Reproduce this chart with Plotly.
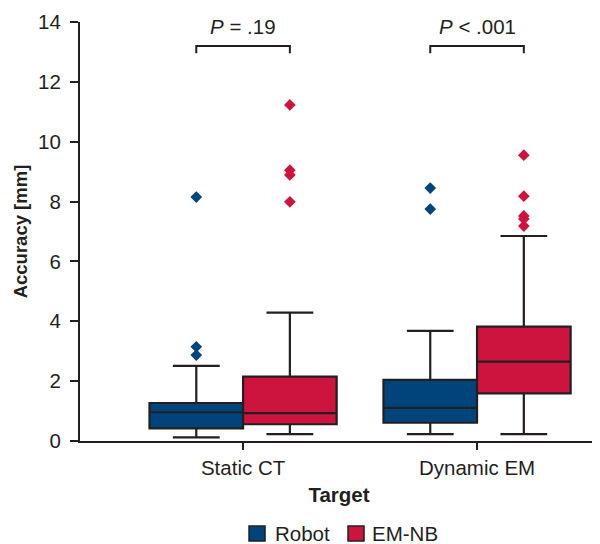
import plotly.graph_objects as go

categories = ["Static CT", "Dynamic EM"]
groups = ["Robot", "EM-NB"]

robot_lower = [0.12, 0.23]
robot_q1 = [0.42, 0.61]
robot_median = [0.96, 1.11]
robot_q3 = [1.27, 2.04]
robot_upper = [2.51, 3.68]
robot_outliers = [[2.87, 3.15, 8.15], [7.75, 8.45]]

emnb_lower = [0.23, 0.23]
emnb_q1 = [0.56, 1.59]
emnb_median = [0.93, 2.65]
emnb_q3 = [2.15, 3.82]
emnb_upper = [4.29, 6.85]
emnb_outliers = [[7.99, 8.89, 9.05, 11.23], [7.18, 7.42, 7.52, 8.18, 9.55]]

p_labels = ["<i>P</i> = .19", "<i>P</i> < .001"]
y_ticks = [0, 2, 4, 6, 8, 10, 12, 14]

colors = {"Robot": "#00447C", "EM-NB": "#CC143F"}
edge = "#231F20"
font = "Liberation Sans, Arial, Helvetica, sans-serif"
fs = 20.5

offset = 0.2
bw = 0.4

fig = go.Figure()

series = [
    ("Robot", -offset, robot_lower, robot_q1, robot_median, robot_q3, robot_upper, robot_outliers),
    ("EM-NB", offset, emnb_lower, emnb_q1, emnb_median, emnb_q3, emnb_upper, emnb_outliers),
]

for name, off, lo, q1, med, q3, up, outl in series:
    xs = [i + off for i in range(len(categories))]
    fig.add_trace(go.Box(
        x=xs, lowerfence=lo, q1=q1, median=med, q3=q3, upperfence=up,
        width=bw, whiskerwidth=0.5, fillcolor=colors[name],
        line=dict(color=edge, width=2.2), boxpoints=False,
        showlegend=False, name=name, hoverinfo="skip",
    ))
    ox, oy = [], []
    for i, vals in enumerate(outl):
        for v in vals:
            ox.append(i + off)
            oy.append(v)
    fig.add_trace(go.Scatter(
        x=ox, y=oy, mode="markers", showlegend=False,
        marker=dict(symbol="diamond", size=9, color=colors[name]),
        hoverinfo="skip",
    ))

# significance brackets
for i, lab in enumerate(p_labels):
    x0, x1 = i - offset, i + offset
    fig.add_shape(type="path",
                  path=f"M {x0} 12.96 L {x0} 13.2 L {x1} 13.2 L {x1} 12.96",
                  xref="x", yref="y", line=dict(color=edge, width=2))
    fig.add_annotation(x=i, y=13.85, xref="x", yref="y", text=lab,
                       showarrow=False, yanchor="middle",
                       font=dict(size=fs, color=edge, family=font))

# manual legend (swatch + label)
legend_items = [("Robot", 0.3263, 0.3726), ("EM-NB", 0.5174, 0.5598)]
for name, sx, tx in legend_items:
    fig.add_shape(type="rect", xref="paper", yref="paper",
                  x0=sx, x1=sx + 0.0309, y0=-0.2387, y1=-0.2029,
                  fillcolor=colors[name], line=dict(color=edge, width=1.5))
    fig.add_annotation(x=tx, y=-0.2196, xref="paper", yref="paper",
                       text=name, showarrow=False, xanchor="left",
                       yanchor="middle", font=dict(size=fs, color=edge))

fig.update_layout(
    width=592, height=536,
    margin=dict(l=72, r=2, t=14, b=103),
    plot_bgcolor="white", paper_bgcolor="white",
    font=dict(family=font, size=fs, color=edge),
    showlegend=False,
    xaxis=dict(
        range=[-0.697, 1.517], tickvals=list(range(len(categories))),
        ticktext=categories, showline=True, linecolor=edge, linewidth=2,
        ticks="outside", ticklen=7, tickwidth=2, tickcolor=edge,
        showgrid=False, zeroline=False, automargin=False,
        title=dict(text="<b>Target</b>", font=dict(size=fs), standoff=10),
    ),
    yaxis=dict(
        range=[0, 14], tickvals=y_ticks, showline=True, linecolor=edge,
        linewidth=2, ticks="outside", ticklen=8, tickwidth=2, tickcolor=edge,
        ticklabelstandoff=5,
        showgrid=False, zeroline=False, automargin=False,
        title=dict(text="<b>Accuracy [mm]</b>", font=dict(size=18.5), standoff=6),
    ),
)

fig.write_html("out.html")
